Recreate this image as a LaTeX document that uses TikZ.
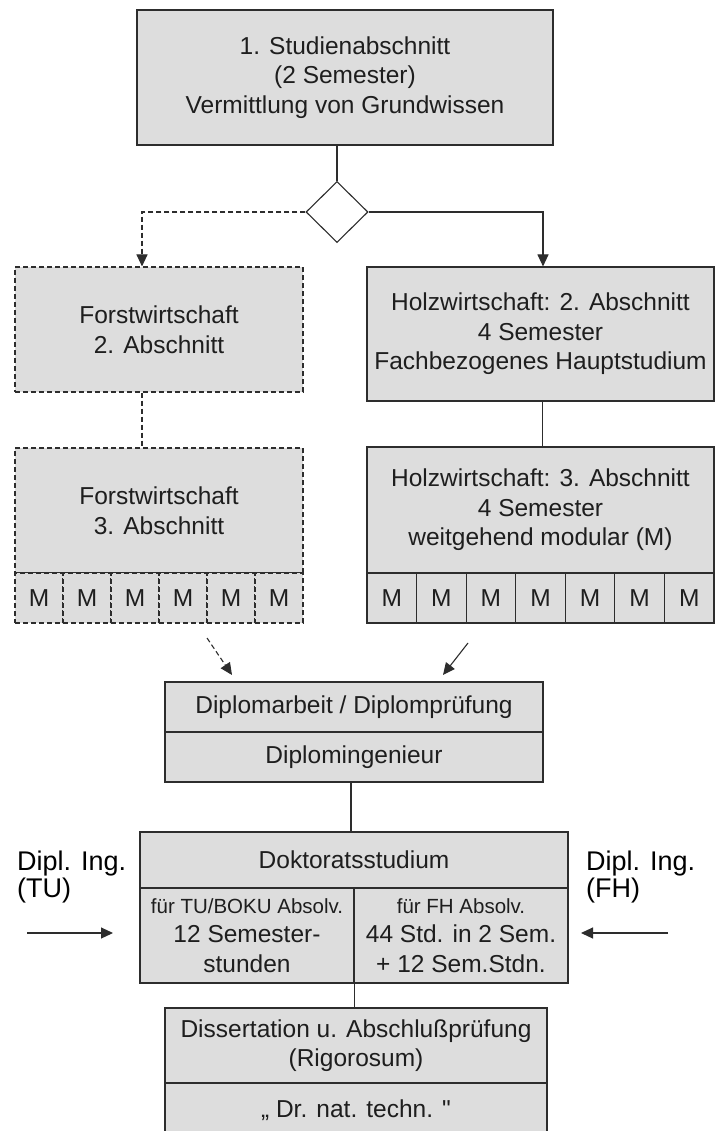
\documentclass[tikz,border=0pt]{standalone}
\usepackage{fontspec}
\setmainfont{Liberation Sans}[Ligatures=TeXOff]
\usepackage{xcolor}
\usetikzlibrary{arrows.meta,positioning,shapes.geometric}

\definecolor{boxgray}{RGB}{221,221,221}
\definecolor{linegray}{RGB}{45,45,45}
\definecolor{textgray}{RGB}{30,30,30}

\begin{document}
\begin{tikzpicture}[x=1pt, y=-1pt,
    txt/.style={font=\fontsize{24.5pt}{29.5pt}\selectfont, text=textgray},
    box/.style={draw=linegray, line width=1.1pt, fill=boxgray, align=center,
      inner sep=0pt, txt},
    dbox/.style={box, dash pattern=on 5pt off 3pt},
    link/.style={draw=linegray, line width=1.1pt},
    dlink/.style={link, dash pattern=on 5pt off 3pt},
    tip/.style={-{Triangle[length=12pt,width=11pt]}}]

  \useasboundingbox (0,0) rectangle (718,1131);
  \fill[white] (0,0) rectangle (718,1131);

  % 1. Studienabschnitt and branch
  \node[box, minimum width=416pt, minimum height=135pt] (stud1)
    at (345,77.5) {1. Studienabschnitt\\(2 Semester)\\Vermittlung von Grundwissen};
  \node[draw=linegray, line width=1.1pt, fill=white, diamond, inner sep=0pt,
    minimum width=62pt, minimum height=61pt] (choice) at (337,212) {};

  % Forstwirtschaft (dashed)
  \node[dbox, minimum width=288pt, minimum height=125pt] (forst2)
    at (159,329.5) {Forstwirtschaft\\2. Abschnitt};
  \node[dbox, minimum width=288pt, minimum height=125pt] (forst3)
    at (159,510.5) {Forstwirtschaft\\3. Abschnitt};
  \foreach \i in {0,...,5}
    \node[dbox, minimum width=48pt, minimum height=50pt] (fm\i)
      at (15+48*\i+24,598) {M};

  % Holzwirtschaft
  \node[box, minimum width=347pt, minimum height=134pt] (holz2)
    at (540.5,334) {Holzwirtschaft: 2. Abschnitt\\4 Semester\\Fachbezogenes Hauptstudium};
  \node[box, minimum width=347pt, minimum height=126pt] (holz3)
    at (540.5,510) {Holzwirtschaft: 3. Abschnitt\\4 Semester\\weitgehend modular (M)};
  \foreach \i in {0,...,6}
    \node[box, minimum width=49.57pt, minimum height=50pt] (hm\i)
      at (367+49.57*\i+24.79,598) {M};

  % Diplom
  \node[box, minimum width=378pt, minimum height=50pt] (dipl)
    at (354,707) {Diplomarbeit / Diplomprüfung};
  \node[box, minimum width=378pt, minimum height=50pt] (diplIng)
    at (354,757) {Diplomingenieur};

  % Doktorat
  \node[box, minimum width=428pt, minimum height=56pt] (dok)
    at (354,860) {Doktoratsstudium};
  \node[box, minimum width=214pt, minimum height=95pt] (dokTU)
    at (247,935.5) {\fontsize{20.5pt}{26pt}\selectfont für TU/BOKU Absolv.\\
      \fontsize{24.5pt}{28pt}\selectfont 12 Semester-\\stunden};
  \node[box, minimum width=214pt, minimum height=95pt] (dokFH)
    at (461,935.5) {\fontsize{20.5pt}{26pt}\selectfont für FH Absolv.\\
      \fontsize{24.5pt}{28pt}\selectfont 44 Std. in 2 Sem.\\+ 12 Sem.Stdn.};

  % Dissertation
  \node[box, minimum width=382pt, minimum height=75pt] (diss)
    at (356,1045.5) {Dissertation u. Abschlußprüfung\\(Rigorosum)};
  \node[box, minimum width=382pt, minimum height=54pt] (titel)
    at (356,1110) {„ Dr. nat. techn. "};

  % Entry labels
  \node[font=\fontsize{27pt}{27pt}\selectfont, align=left, inner sep=0pt,
    anchor=west] (tuLabel) at (17,877) {Dipl. Ing.\\(TU)};
  \node[font=\fontsize{27pt}{27pt}\selectfont, align=left, inner sep=0pt,
    anchor=west] (fhLabel) at (586,877) {Dipl. Ing.\\(FH)};
  \coordinate (tuStart) at (27,933);
  \coordinate (fhStart) at (668,933);
  \coordinate (forstOut) at (207,638);
  \coordinate (forstIn) at (232,675);
  \coordinate (holzOut) at (468,643);
  \coordinate (holzIn) at (443,675);

  % Connectors
  \draw[link] (choice.north |- stud1.south) -- (choice.north);
  \draw[dlink, tip] (choice.west) -| ([xshift=-17pt]forst2.north);
  \draw[link, tip] (choice.east) -| ([xshift=2.5pt]holz2.north);
  \draw[dlink] ([xshift=-17pt]forst2.south) -- ([xshift=-17pt]forst3.north);
  \draw[link] ([xshift=2pt]holz2.south) -- ([xshift=2pt]holz3.north);
  \draw[dlink, tip] (forstOut) -- (forstIn);
  \draw[link, tip] (holzOut) -- (holzIn);
  \draw[link] ([xshift=-3pt]diplIng.south) -- ([xshift=-3pt]diplIng.south |- dok.north);
  \draw[link] (dokTU.south east) -- (dokTU.south east |- diss.north);
  \draw[link, tip] (tuStart) -- ++(86,0);
  \draw[link, tip] (fhStart) -- ++(-87,0);

\end{tikzpicture}
\end{document}
